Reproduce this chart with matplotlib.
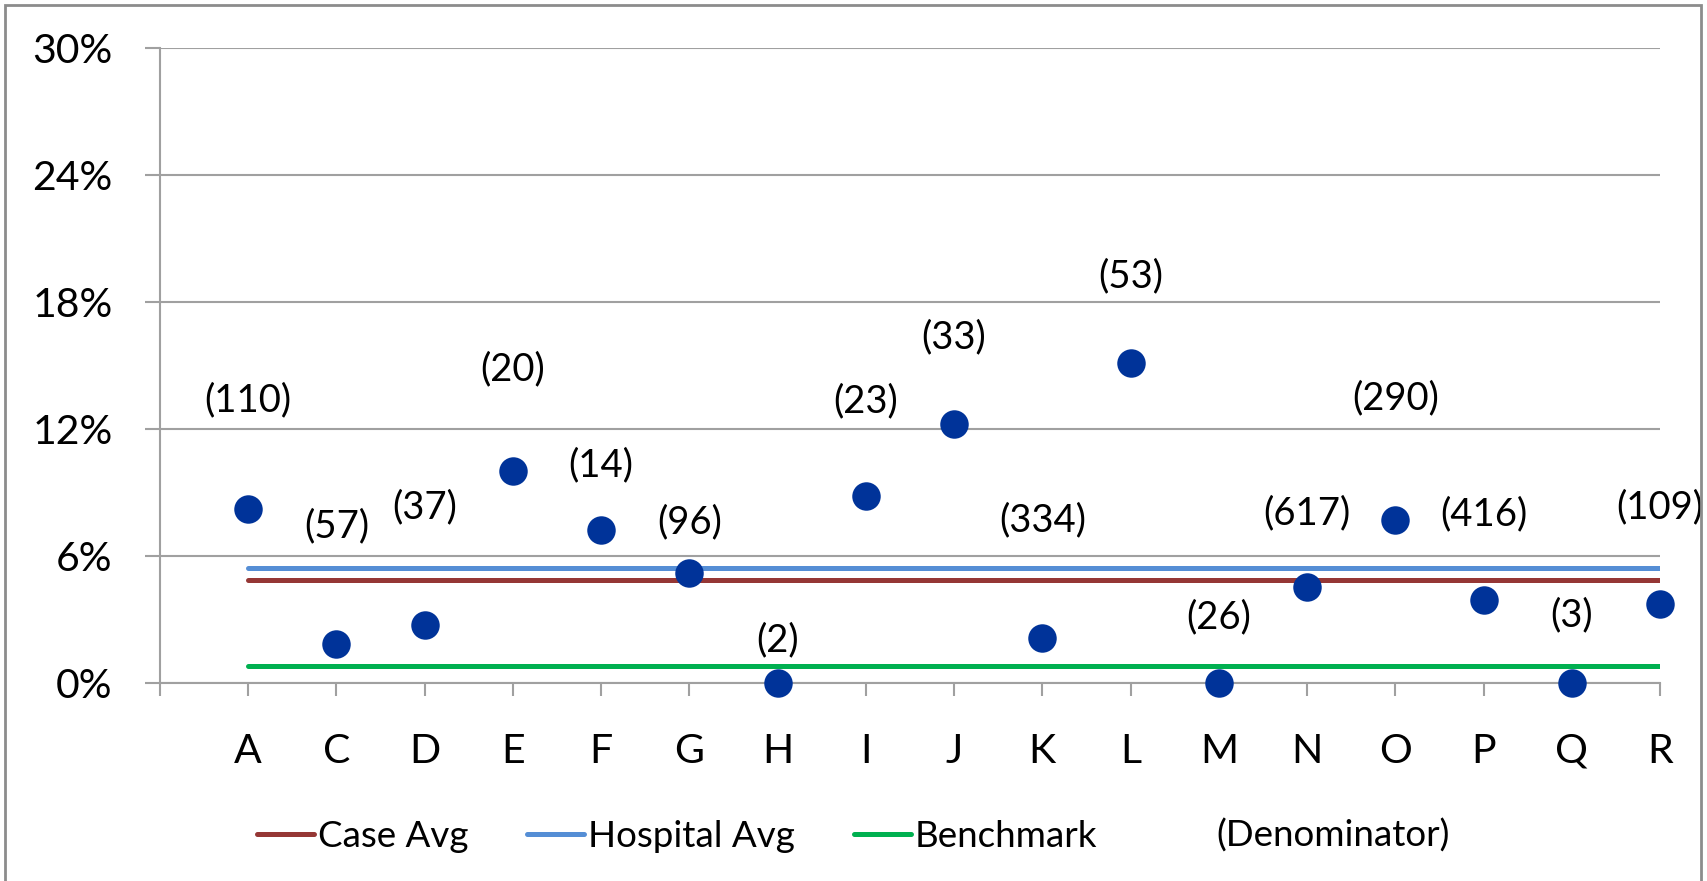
import matplotlib
matplotlib.use('Agg')
import matplotlib.pyplot as plt
from matplotlib.lines import Line2D
from matplotlib.patches import Rectangle
from matplotlib.ticker import FuncFormatter

plt.rcParams['font.family'] = ['Lato', 'DejaVu Sans']

# rate per facility (%) and the denominators shown above each point
cats = ['A', 'C', 'D', 'E', 'F', 'G', 'H', 'I', 'J', 'K', 'L', 'M', 'N', 'O', 'P', 'Q', 'R']
rates = [8.2, 1.8, 2.7, 10.0, 7.2, 5.2, 0.0, 8.8, 12.2, 2.1, 15.1, 0.0, 4.5, 7.7, 3.9, 0.0, 3.7]
denoms = [110, 57, 37, 20, 14, 96, 2, 23, 33, 334, 53, 26, 617, 290, 416, 3, 109]
case_avg = 4.86
hospital_avg = 5.43
benchmark = 0.8

# height of each denominator label (%)
label_y = [13.35, 7.4, 8.27, 14.8, 10.29, 7.56, 2.0, 13.31, 16.3, 7.68, 19.19,
           3.08, 8.02, 13.45, 7.95, 3.2, 8.29]

grid_col = '#a0a0a0'
case_col = '#953735'
hosp_col = '#558ed5'
bench_col = '#00b050'
pt_col = '#003399'

fig = plt.figure(figsize=(17.07, 8.81), dpi=100)
ax = fig.add_axes([0.0937, 0.2253, 0.8788, 0.7202])

x = list(range(len(cats)))
xs = [x[0], x[-1]]
lw = 3.6
ax.plot(xs, [case_avg] * 2, color=case_col, lw=lw, solid_capstyle='round', zorder=3)
ax.plot(xs, [hospital_avg] * 2, color=hosp_col, lw=lw, solid_capstyle='round', zorder=3)
ax.plot(xs, [benchmark] * 2, color=bench_col, lw=lw, solid_capstyle='round', zorder=3)

ax.plot(x, rates, 'o', ms=20.5, color=pt_col, mec='none', zorder=5, clip_on=False)

for xi, ly, d in zip(x, label_y, denoms):
    ax.text(xi, ly, '(%d)' % d, ha='center', va='center', fontsize=27.5, zorder=6)

ax.set_xlim(-1, 16)
ax.set_ylim(0, 30)
ax.set_yticks(range(0, 31, 6))
ax.yaxis.set_major_formatter(FuncFormatter(lambda v, p: '%d%%' % v))
ax.set_xticks([-1] + x)
ax.set_xticklabels([''] + cats)

ax.grid(axis='y', color=grid_col, lw=1.5)
ax.set_axisbelow(True)
for s in ['top', 'right']:
    ax.spines[s].set_visible(False)
for s in ['left', 'bottom']:
    ax.spines[s].set_color(grid_col)
    ax.spines[s].set_linewidth(1.5)

ax.tick_params(axis='y', length=11, width=1.5, color=grid_col, pad=23, labelsize=29.5)
ax.tick_params(axis='x', length=9, width=1.5, color=grid_col, pad=27, labelsize=29.5)

handles = [
    Line2D([], [], color=case_col, lw=lw, solid_capstyle='round'),
    Line2D([], [], color=hosp_col, lw=lw, solid_capstyle='round'),
    Line2D([], [], color=bench_col, lw=lw, solid_capstyle='round'),
    Line2D([], [], color='none'),
]
labels = ['Case Avg', 'Hospital Avg', 'Benchmark', '(Denominator)']
fig.legend(handles, labels, loc='center', bbox_to_anchor=(0.5, 1 - 836 / 881), ncol=4,
           frameon=False, fontsize=26.5, handlelength=1.55, handletextpad=0.1,
           columnspacing=1.6, borderaxespad=0)

# chart border
fig.patches.append(Rectangle((5 / 1707, -0.05), 1696 / 1707, 1.05 - 5 / 881,
                             transform=fig.transFigure, fill=False,
                             edgecolor='#8c8c8c', lw=2))

fig.savefig('out.png', dpi=100)
